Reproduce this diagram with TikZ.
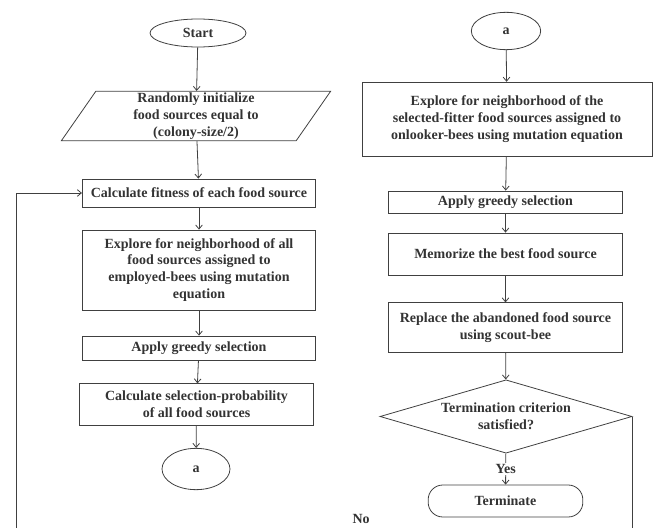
\documentclass[tikz,border=0pt]{standalone}
\usepackage{fontspec}
\setmainfont{Liberation Serif}
\usepackage{tikz}
\usetikzlibrary{shapes.geometric,arrows.meta}

\begin{document}
\begin{tikzpicture}[x=0.75pt,y=-0.75pt]
\tikzstyle{every node}=[font=\fontsize{10.5}{12.7}\selectfont\bfseries,text=black!80,align=center]
\tikzstyle{box}=[draw=black!75,line width=0.6pt,rectangle,inner sep=2pt,minimum width=175pt]
\tikzstyle{term}=[draw=black!75,line width=0.6pt,ellipse,inner sep=1pt]
\tikzstyle{io}=[draw=black!75,line width=0.6pt,trapezium,trapezium left angle=66,trapezium right angle=114,trapezium stretches=true,inner sep=1pt]
\tikzstyle{decision}=[draw=black!75,line width=0.6pt,diamond,aspect=3.4,inner sep=0pt]
\tikzstyle{stop}=[draw=black!75,line width=0.6pt,rectangle,rounded corners=11pt,inner sep=2pt]
\tikzstyle{line}=[draw=black!75,line width=0.6pt,-{Straight Barb[length=3pt,width=5pt]}]
\useasboundingbox (0,0) rectangle (653,528);
\clip (0,0) rectangle (653,528);
\node[term,minimum width=72pt,minimum height=21pt] (start) at (198,33) {Start};
\node[io,minimum width=202pt,minimum height=37pt] (init) at (196,116) {Randomly initialize\\food sources equal to\\(colony-size/2)};
\node[box,minimum height=21pt] (fit) at (199,193) {Calculate fitness of each food source};
\node[box,minimum height=60pt] (expl) at (199,270) {Explore for neighborhood of all\\food sources assigned to\\employed-bees using mutation\\equation};
\node[box,minimum height=18pt] (greedyA) at (199,348) {Apply greedy selection};
\node[box,minimum height=31pt] (prob) at (196.5,404.5) {Calculate selection-probability\\of all food sources};
\node[term,minimum width=51pt,minimum height=31pt] (conA) at (196,469) {a};
\node[term,minimum width=52pt,minimum height=28pt] (conB) at (506,31) {a};
\node[box,minimum width=217.5pt,minimum height=56pt] (explB) at (507,119.5) {Explore for neighborhood of the\\selected-fitter food sources assigned to\\onlooker-bees using mutation equation};
\node[box,minimum height=16.5pt] (greedyB) at (505.5,202) {Apply greedy selection};
\node[box,minimum height=31.5pt] (best) at (505.5,254) {Memorize the best food source};
\node[box,minimum height=37pt] (scout) at (505.5,327.5) {Replace the abandoned food source\\using scout-bee};
\node[decision,minimum width=189pt,minimum height=55pt] (check) at (506,416.5) {Termination criterion\\satisfied?};
\node[stop,minimum width=116pt,minimum height=24pt] (stop) at (505.5,501) {Terminate};
\coordinate (loopL) at (16,545);
\draw[line] (start) -- (init);
\draw[line] (init) -- (fit);
\draw[line] (fit) -- (expl);
\draw[line] (expl) -- (greedyA);
\draw[line] (greedyA) -- (prob);
\draw[line] (prob) -- (conA);
\draw[line] (conB) -- (explB);
\draw[line] (explB) -- (greedyB);
\draw[line] (greedyB) -- (best);
\draw[line] (best) -- (scout);
\draw[line] (scout) -- (check);
\draw[line] (check) -- node[fill=white,inner sep=1pt] {Yes} (stop);
\draw[line] (check.east) |- (loopL) node[pos=0.72,above=16pt,inner sep=0pt] {No} |- (fit.west);
\end{tikzpicture}
\end{document}
